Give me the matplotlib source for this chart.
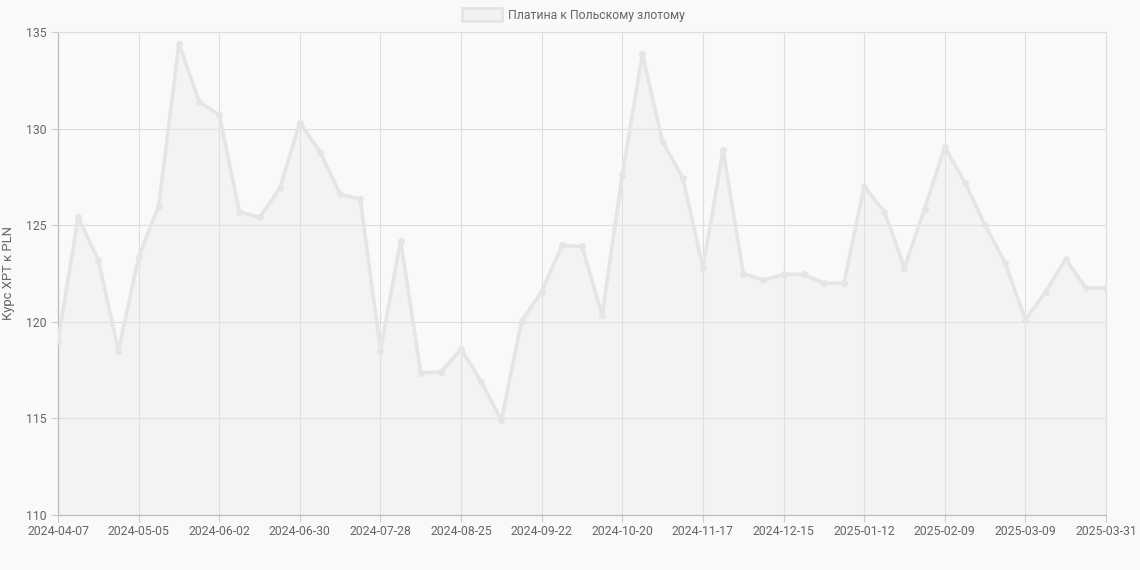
import matplotlib
matplotlib.use("Agg")
import matplotlib.pyplot as plt
from matplotlib.patches import Rectangle

plt.rcParams['font.family'] = ['Roboto', 'DejaVu Sans']

dates = [
    "2024-04-07", "2024-04-14", "2024-04-21", "2024-04-28", "2024-05-05", "2024-05-12",
    "2024-05-19", "2024-05-26", "2024-06-02", "2024-06-09", "2024-06-16", "2024-06-23",
    "2024-06-30", "2024-07-07", "2024-07-14", "2024-07-21", "2024-07-28", "2024-08-04",
    "2024-08-11", "2024-08-18", "2024-08-25", "2024-09-01", "2024-09-08", "2024-09-15",
    "2024-09-22", "2024-09-29", "2024-10-06", "2024-10-13", "2024-10-20", "2024-10-27",
    "2024-11-03", "2024-11-10", "2024-11-17", "2024-11-24", "2024-12-01", "2024-12-08",
    "2024-12-15", "2024-12-22", "2024-12-29", "2025-01-05", "2025-01-12", "2025-01-19",
    "2025-01-26", "2025-02-02", "2025-02-09", "2025-02-16", "2025-02-23", "2025-03-02",
    "2025-03-09", "2025-03-16", "2025-03-23", "2025-03-30", "2025-03-31",
]
values = [
    119.0, 125.4, 123.2, 118.5, 123.35, 126.0, 134.4, 131.4, 130.7, 125.7, 125.4, 126.9,
    130.3, 128.8, 126.6, 126.35, 118.5, 124.2, 117.35, 117.4, 118.6, 116.9, 114.9, 120.05,
    121.55, 123.95, 123.9, 120.35, 127.6, 133.85, 129.3, 127.45, 122.8, 128.9, 122.5, 122.15,
    122.45, 122.45, 122.0, 122.0, 127.0, 125.7, 122.8, 125.85, 129.05, 127.2, 125.0, 123.05,
    120.1, 121.55, 123.25, 121.75, 121.75,
]
tick_labels = [
    "2024-04-07", "2024-05-05", "2024-06-02", "2024-06-30", "2024-07-28", "2024-08-25",
    "2024-09-22", "2024-10-20", "2024-11-17", "2024-12-15", "2025-01-12", "2025-02-09",
    "2025-03-09", "2025-03-31",
]
y_ticks = [110, 115, 120, 125, 130, 135]
series_label = "Платина к Польскому злотому"
y_label = "Курс XPT к PLN"

bg = "#f9f9f9"
line_c = "#e7e4e4"
fill_c = (239/255, 229/255, 232/255, 0.3)
fig = plt.figure(figsize=(11.4, 5.7), dpi=100, facecolor=bg)
ax = fig.add_axes([58/1140, 1-515/570, (1106-58)/1140, (515-32)/570])
ax.set_facecolor(bg)

x = list(range(len(dates)))
ax.fill_between(x, values, 110, color=fill_c, zorder=2, linewidth=0)
ax.plot(x, values, color=line_c, linewidth=2.6, zorder=3,
        marker="o", markersize=4, markerfacecolor=line_c, markeredgecolor=line_c,
        solid_joinstyle="round")

ax.set_xlim(0, len(dates)-1)
ax.set_ylim(110, 135)
tick_pos = [dates.index(t) for t in tick_labels]
ax.set_xticks(tick_pos)
ax.set_xticklabels(tick_labels)
ax.set_yticks(y_ticks)
ax.grid(True, color="#dddddd", linewidth=0.8, zorder=0)
ax.set_axisbelow(True)
for s in ["top", "right"]:
    ax.spines[s].set_color("#dddddd")
    ax.spines[s].set_linewidth(0.8)
for s in ["left", "bottom"]:
    ax.spines[s].set_color("#bbbbbb")
    ax.spines[s].set_linewidth(0.9)
ax.tick_params(axis="both", colors="#cccccc", labelsize=8.8, length=5, width=0.8)
ax.tick_params(axis="x", pad=2)
ax.tick_params(axis="y", pad=3)
for lbl in ax.get_xticklabels() + ax.get_yticklabels():
    lbl.set_color("#666666")
ax.set_ylabel(y_label, color="#666666", fontsize=9.4, labelpad=8)

# legend at top
fig.patches.append(Rectangle((462/1140, 1-21/570), 40/1140, 13/570,
                             transform=fig.transFigure, facecolor="#f3f1f1",
                             edgecolor=line_c, linewidth=2.0))
fig.text(508/1140, 1-15/570, series_label, ha="left", va="center",
         color="#666666", fontsize=8.8)

fig.savefig("out.png", dpi=100, facecolor=bg)
